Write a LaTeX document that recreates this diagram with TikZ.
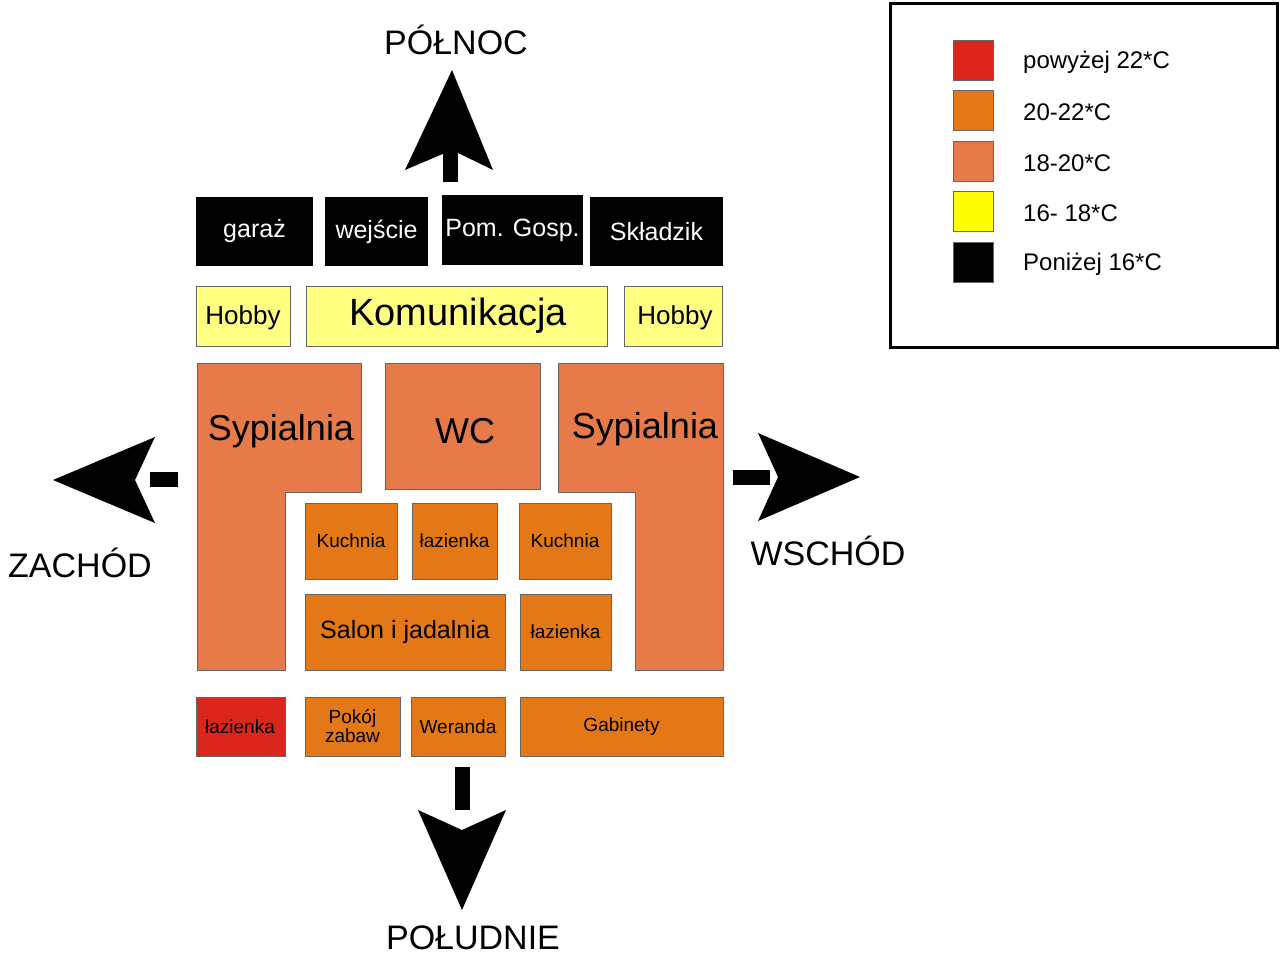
\documentclass[tikz,border=0pt]{standalone}
\usepackage{fontspec}
\setmainfont{Liberation Sans}
\definecolor{cred}{RGB}{218,38,28}
\definecolor{corange}{RGB}{228,120,22}
\definecolor{csalmon}{RGB}{230,122,72}
\definecolor{cyel}{RGB}{255,255,130}
\definecolor{cyel2}{RGB}{255,255,0}
\tikzset{x=1pt,y=-1pt,
 room/.style={draw=black!60,line width=0.8pt},
 lbl/.style={font=\fontsize{#1}{#1}\selectfont,inner sep=0pt,align=center},
 arr/.style={fill=black,draw=none}}
\begin{document}
\begin{tikzpicture}
\useasboundingbox (0,0) rectangle (1280,954);
% north row
\foreach \a/\b/\c/\d/\t/\n in {196/313/197/266/garaż/ga,325/428/197/266/wejście/we,442/583/195/265/Pom. Gosp./pg,590/723/197/266/Składzik/sk}{
 \fill (\a,\c) rectangle (\b,\d);
 \node[lbl=25,text=white] (\n) at ({(\a+\b)/2},{(\c+\d)/2}) {\t};}
% hobby row
\draw[room,fill=cyel] (196,286) rectangle (290,346);
\node[lbl=26] (h1) at (243,318) {Hobby};
\draw[room,fill=cyel] (306,286) rectangle (607,346);
\node[lbl=38] (kom) at (458,316) {Komunikacja};
\draw[room,fill=cyel] (624,286) rectangle (722,346);
\node[lbl=26] (h2) at (675,318) {Hobby};
% bedrooms
\draw[room,fill=csalmon] (197,363)--(361,363)--(361,492)--(285,492)--(285,670)--(197,670)--cycle;
\node[lbl=36] (s1) at (281,431) {Sypialnia};
\draw[room,fill=csalmon] (385,363) rectangle (540,489);
\node[lbl=36] (wc) at (465,431) {WC};
\draw[room,fill=csalmon] (558,363)--(723,363)--(723,670)--(635,670)--(635,492)--(558,492)--cycle;
\node[lbl=36] (s2) at (645,429) {Sypialnia};
% middle
\foreach \a/\b/\c/\d/\t/\s/\n in {305/397/503/579/Kuchnia/19/k1,412/497/503/579/łazienka/19/l1,519/611/503/579/Kuchnia/19/k2,305/505/594/670/Salon i jadalnia/25/sal,520/611/594/670/łazienka/19/l2,305/400/697/756/{Pokój\\ zabaw}/19/pz,411/505/697/756/Weranda/19/wer,520/723/697/756/Gabinety/19/gab}{
 \draw[room,fill=corange] (\a,\c) rectangle (\b,\d);
 \node[lbl=\s] (\n) at ({(\a+\b)/2},{(\c+\d)/2}) {\t};}
\draw[room,fill=cred] (196,697) rectangle (285,756);
\node[lbl=19] (l3) at (240,727) {łazienka};
% arrows
\fill[arr] (443,182) rectangle (458,150);
\fill[arr] (405,170)--(452,70)--(493,170)--(452,150)--cycle;
\fill[arr] (455,767) rectangle (470,810);
\fill[arr] (418,810)--(462,910)--(506,810)--(462,830)--cycle;
\fill[arr] (178,472) rectangle (150,487);
\fill[arr] (53,480)--(155,437)--(135,480)--(155,523)--cycle;
\fill[arr] (733,470) rectangle (770,485);
\fill[arr] (758,433)--(860,477)--(758,521)--(778,477)--cycle;
\node[lbl=34] (n) at (456,40) {PÓŁNOC};
\node[lbl=34] (s) at (473,938) {POŁUDNIE};
\node[lbl=34] (w) at (80,563) {ZACHÓD};
\node[lbl=34] (e) at (828,551) {WSCHÓD};
% legend
\draw[line width=3pt] (890,3) rectangle (1277,347);
\foreach \y/\c/\t/\n in {40/cred/powyżej 22*C/g1,90/corange/20-22*C/g2,141/csalmon/18-20*C/g3,191/cyel2/16- 18*C/g4,242/black/Poniżej 16*C/g5}{
 \draw[black!60,fill=\c] (953,\y) rectangle (993,\y+40);
 \node[lbl=24,anchor=west] (\n) at (1023,\y+22) {\t};}
\end{tikzpicture}
\end{document}
